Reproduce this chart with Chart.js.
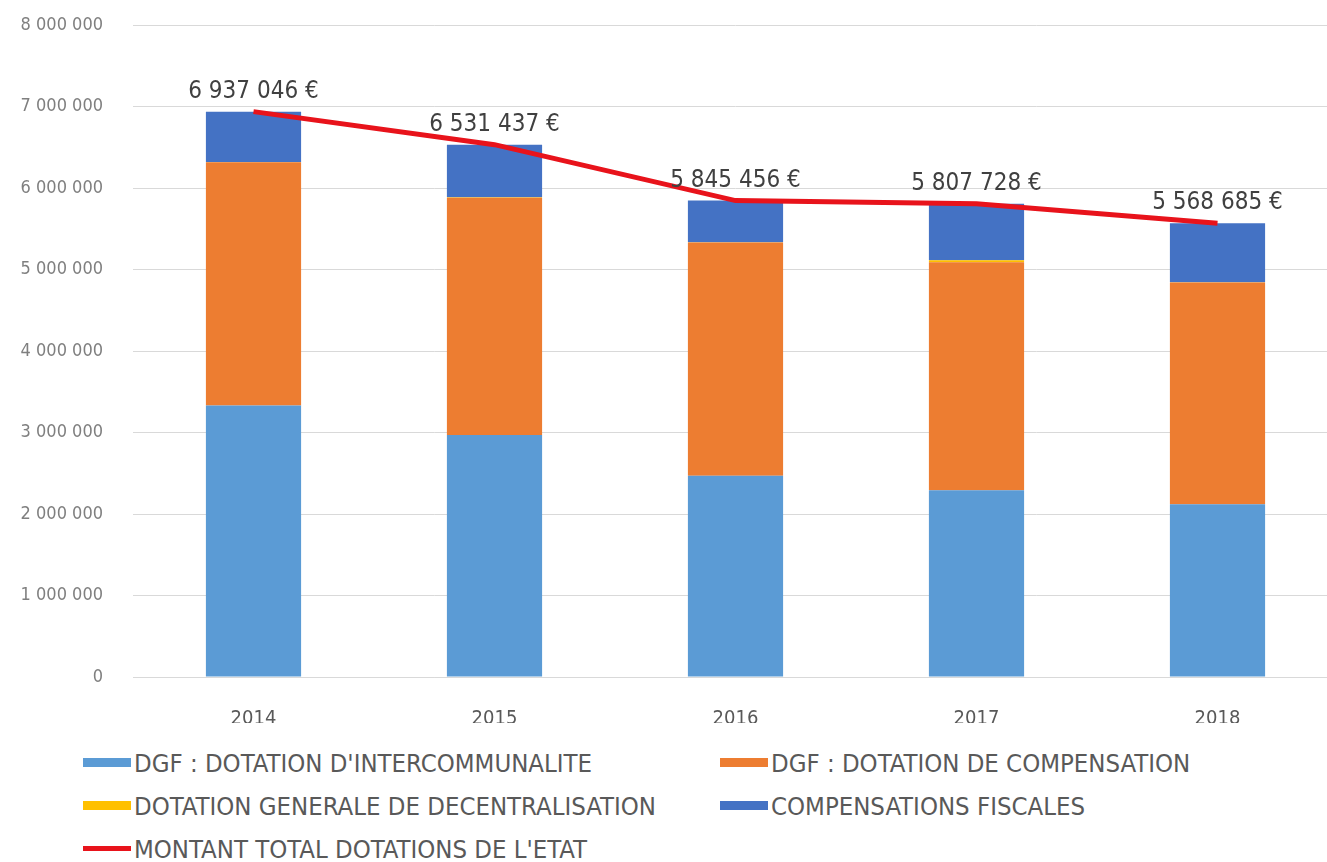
<!DOCTYPE html>
<html>
<head>
<meta charset="utf-8">
<script src="https://cdn.jsdelivr.net/npm/chart.js@4/dist/chart.umd.min.js"></script>
<style>
  html, body { margin: 0; padding: 0; background: #fff; overflow: hidden; }
  #wrap { position: relative; width: 1327px; height: 862px; overflow: hidden; }
  #chart { position: absolute; left: 0; top: 0; }
  #legend {
    position: absolute; left: 0; top: 741px; width: 1327px;
    font-family: "DejaVu Sans Condensed", "DejaVu Sans", sans-serif;
    font-size: 25.5px; color: #595959;
  }
  .item { position: absolute; display: flex; align-items: center; height: 43px; white-space: nowrap; }
  .swatch { width: 48px; margin-right: 3px; }
</style>
</head>
<body>
<div id="wrap">
  <canvas id="chart" width="1338" height="723"></canvas>
  <div id="legend"></div>
</div>
<script>
// data
const years = ["2014", "2015", "2016", "2017", "2018"];
const dgfIntercommunalite = [3330000, 2970000, 2470000, 2290000, 2120000];
const dgfCompensation = [2985000, 2910000, 2860000, 2800000, 2720000];
const dotationDecentralisation = [5000, 5000, 5000, 25000, 5000];
const compensationsFiscales = [617046, 646437, 510456, 692728, 723685];
const montantTotal = [6937046, 6531437, 5845456, 5807728, 5568685];

const fmt = v => String(v).replace(/\B(?=(\d{3})+(?!\d))/g, " ");
const FONT = "'DejaVu Sans Condensed', 'DejaVu Sans', sans-serif";

// draws the "x xxx xxx €" labels above the total line
const totalLabels = {
  id: "totalLabels",
  afterDatasetsDraw(chart) {
    const idx = chart.data.datasets.findIndex(d => d.type === "line");
    const meta = chart.getDatasetMeta(idx);
    const ctx = chart.ctx;
    ctx.save();
    ctx.font = "24px " + FONT;
    ctx.fillStyle = "#404040";
    ctx.textAlign = "center";
    ctx.textBaseline = "middle";
    meta.data.forEach((pt, i) => {
      ctx.fillText(fmt(chart.data.datasets[idx].data[i]) + " €", pt.x, pt.y - 20);
    });
    ctx.restore();
  }
};

const chart = new Chart(document.getElementById("chart"), {
  type: "bar",
  data: {
    labels: years,
    datasets: [
      { label: "DGF : DOTATION D'INTERCOMMUNALITE", data: dgfIntercommunalite, backgroundColor: "#5b9bd5", stack: "s", order: 1 },
      { label: "DGF : DOTATION DE COMPENSATION", data: dgfCompensation, backgroundColor: "#ed7d31", stack: "s", order: 1 },
      { label: "DOTATION GENERALE DE DECENTRALISATION", data: dotationDecentralisation, backgroundColor: "#ffc000", stack: "s", order: 1 },
      { label: "COMPENSATIONS FISCALES", data: compensationsFiscales, backgroundColor: "#4472c4", stack: "s", order: 1 },
      {
        type: "line", label: "MONTANT TOTAL DOTATIONS DE L'ETAT", data: montantTotal,
        borderColor: "#e8131b", backgroundColor: "#e8131b", borderWidth: 5,
        pointRadius: 0, tension: 0, stack: "total", order: 0
      }
    ]
  },
  options: {
    responsive: false,
    animation: false,
    layout: { padding: { top: 25, right: 0, bottom: 0, left: 0 } },
    datasets: { bar: { barPercentage: 0.395, categoryPercentage: 1 } },
    plugins: { legend: { display: false }, tooltip: { enabled: false } },
    scales: {
      x: {
        stacked: true,
        grid: { display: false },
        border: { display: true, color: "#d9d9d9" },
        ticks: { color: "#595959", font: { family: FONT, size: 20 }, padding: 22 },
        afterFit: s => { s.height = 46; }
      },
      y: {
        stacked: true,
        min: 0, max: 8000000,
        grid: { color: "#d9d9d9", drawTicks: false },
        border: { display: false },
        ticks: {
          stepSize: 1000000, padding: 30, color: "#7f7f7f",
          font: { family: FONT, size: 18 },
          callback: v => fmt(v)
        },
        afterFit: s => { s.width = 133; s.paddingTop = 0; s.paddingBottom = 0; }
      }
    }
  },
  plugins: [totalLabels]
});

// legend in two columns, built from the datasets
const legendPos = [[83, 0], [720, 0], [83, 1], [720, 1], [83, 2]];
const legend = document.getElementById("legend");
chart.data.datasets.forEach((ds, i) => {
  const item = document.createElement("div");
  item.className = "item";
  item.style.left = legendPos[i][0] + "px";
  item.style.top = (legendPos[i][1] * 43) + "px";
  const sw = document.createElement("span");
  sw.className = "swatch";
  sw.style.background = ds.type === "line" ? ds.borderColor : ds.backgroundColor;
  sw.style.height = ds.type === "line" ? "5px" : "9px";
  const txt = document.createElement("span");
  txt.textContent = ds.label;
  item.appendChild(sw);
  item.appendChild(txt);
  legend.appendChild(item);
});
</script>
</body>
</html>
